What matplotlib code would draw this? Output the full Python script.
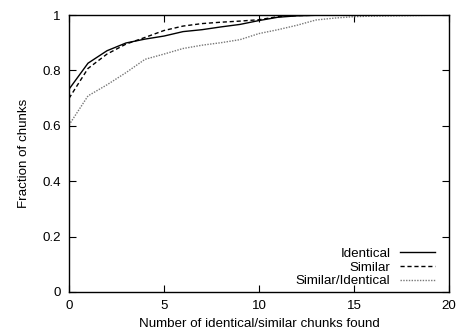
import matplotlib
matplotlib.use("Agg")
import matplotlib.pyplot as plt

plt.rcParams['font.family'] = ['Liberation Sans', 'DejaVu Sans']

x = list(range(0, 21))
identical = [0.732, 0.826, 0.871, 0.899, 0.913, 0.924, 0.940, 0.947, 0.957, 0.966,
             0.980, 0.992, 0.997, 0.999, 1.0, 1.0, 1.0, 1.0, 1.0, 1.0, 1.0]
similar = [0.699, 0.807, 0.859, 0.895, 0.919, 0.944, 0.960, 0.969, 0.974, 0.978,
           0.983, 0.994, 0.998, 0.999, 1.0, 1.0, 1.0, 1.0, 1.0, 1.0, 1.0]
sim_ident = [0.603, 0.708, 0.748, 0.792, 0.840, 0.859, 0.879, 0.891, 0.900, 0.911,
             0.933, 0.947, 0.963, 0.982, 0.989, 0.994, 0.996, 0.997, 0.998, 0.999, 1.0]
xticks = [0, 5, 10, 15, 20]
yticks = [0, 0.2, 0.4, 0.6, 0.8, 1]
ytick_labels = ['0', '0.2', '0.4', '0.6', '0.8', '1']

FS = 9.6
fig = plt.figure(figsize=(4.58, 3.31), dpi=100)
ax = fig.add_axes([69/458, 39/331, 380/458, 277/331])

ax.plot(x, identical, color='black', lw=1.0, ls='-', label='Identical')
ax.plot(x, similar, color='black', lw=1.0, ls=(0, (3, 2)), label='Similar')
ax.plot(x, sim_ident, color='#777777', lw=1.0, ls=(0, (1, 1)), label='Similar/Identical')

ax.set_xlim(0, 20)
ax.set_ylim(0, 1)
ax.set_xticks(xticks)
ax.set_xticklabels([str(t) for t in xticks])
ax.set_yticks(yticks)
ax.set_yticklabels(ytick_labels)
ax.tick_params(direction='in', top=True, right=True, length=5, width=0.8,
               labelsize=FS, pad=6)
for s in ax.spines.values():
    s.set_linewidth(1.0)

ax.set_xlabel('Number of identical/similar chunks found', fontsize=FS, labelpad=4)
ax.set_ylabel('Fraction of chunks', fontsize=FS, labelpad=9)

leg = ax.legend(loc='lower right', frameon=False, markerfirst=False, fontsize=FS,
                handlelength=2.6, labelspacing=0.1, handletextpad=0.7,
                borderaxespad=0.0, bbox_to_anchor=(0.976, -0.003))

fig.savefig('out.png', dpi=100)
